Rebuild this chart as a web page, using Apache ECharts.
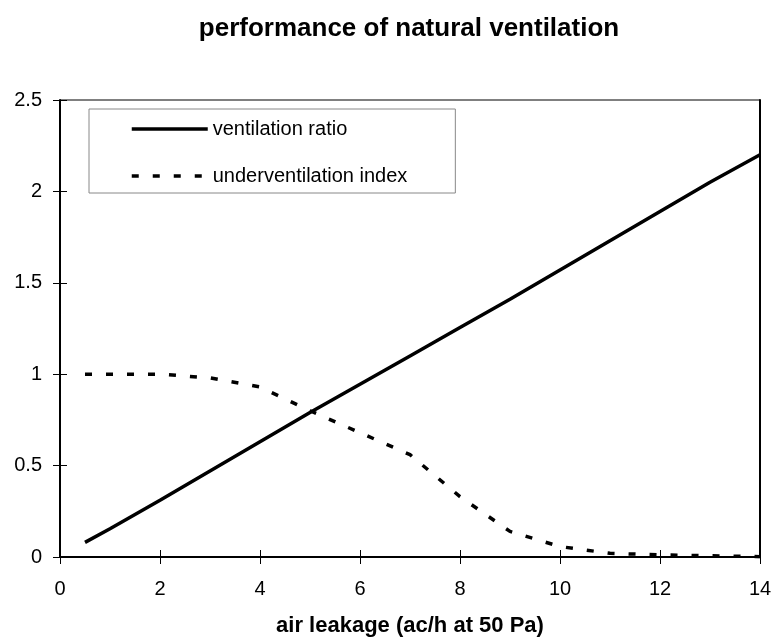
<!DOCTYPE html>
<html>
<head>
<meta charset="utf-8">
<script src="https://cdn.jsdelivr.net/npm/echarts@6/dist/echarts.min.js"></script>
<style>html,body{margin:0;padding:0;background:#fff}#c{width:773px;height:638px}</style>
</head>
<body>
<div id="c"></div>
<script>
const xValues = [0.5, 1, 2, 3, 4, 5, 6, 7, 8, 9, 10, 11, 12, 13, 14];
const ventilationRatio = [0.08, 0.155, 0.31, 0.47, 0.63, 0.79, 0.945, 1.1, 1.255, 1.41, 1.57, 1.73, 1.89, 2.05, 2.2];
const underventilationIndex = [1.0, 1.0, 1.0, 0.98, 0.93, 0.80, 0.68, 0.56, 0.33, 0.14, 0.057, 0.02, 0.012, 0.007, 0.002];
const xTicks = [0, 2, 4, 6, 8, 10, 12, 14];
const yTicks = [0, 0.5, 1, 1.5, 2, 2.5];
const titleText = 'performance of natural ventilation';
const xName = 'air leakage (ac/h at 50 Pa)';
const seriesNames = ['ventilation ratio', 'underventilation index'];

const FONT = '"Liberation Sans", Arial, sans-serif';
const chart = echarts.init(document.getElementById('c'), null, {renderer: 'canvas'});
const pair = (xs, ys) => xs.map((x, i) => [x, ys[i]]);

const baseX = {type: 'value', min: xTicks[0], max: xTicks[xTicks.length - 1], interval: 2, splitLine: {show: false}};
const baseY = {type: 'value', min: yTicks[0], max: yTicks[yTicks.length - 1], interval: 0.5, splitLine: {show: false}};

chart.setOption({
  animation: false,
  backgroundColor: '#fff',
  title: {
    text: titleText, left: 404, top: 11, textAlign: 'center',
    textStyle: {fontFamily: FONT, fontWeight: 'bold', fontSize: 26, color: '#000'}
  },
  grid: {left: 60, right: 13, top: 100, bottom: 81, containLabel: false, outerBoundsMode: 'none',
    show: true, borderColor: '#000', borderWidth: 1, backgroundColor: 'transparent'},
  legend: {
    left: 89, top: 109, orient: 'vertical',
    itemWidth: 76, itemHeight: 14, itemGap: 23,
    padding: [8, 48, 5, 41],
    borderColor: '#888', borderWidth: 1,
    itemStyle: {opacity: 0, borderWidth: 0},
    lineStyle: {width: 3.5},
    textStyle: {fontFamily: FONT, fontSize: 20, color: '#000', lineHeight: 24},
    data: seriesNames
  },
  xAxis: [
    Object.assign({}, baseX, {
      position: 'bottom',
      axisLine: {show: true, lineStyle: {color: '#000', width: 2}},
      axisTick: {show: true, inside: false, length: 7, lineStyle: {color: '#000', width: 1}},
      axisLabel: {margin: 22, fontFamily: FONT, fontSize: 20, color: '#000'},
      name: xName, nameLocation: 'middle', nameGap: 58,
      nameTextStyle: {fontFamily: FONT, fontWeight: 'bold', fontSize: 22, color: '#000'}
    }),
    Object.assign({}, baseX, {
      position: 'bottom',
      axisLine: {show: false},
      axisTick: {show: true, inside: true, length: 7, lineStyle: {color: '#000', width: 1}},
      axisLabel: {show: false}
    })
  ],
  yAxis: [
    Object.assign({}, baseY, {
      position: 'left',
      axisLine: {show: true, lineStyle: {color: '#000', width: 2}},
      axisTick: {show: true, inside: false, length: 7, lineStyle: {color: '#000', width: 1}},
      axisLabel: {margin: 18, fontFamily: FONT, fontSize: 20, color: '#000'}
    }),
    Object.assign({}, baseY, {
      position: 'left',
      axisLine: {show: false},
      axisTick: {show: true, inside: true, length: 7, lineStyle: {color: '#000', width: 1}},
      axisLabel: {show: false}
    }),
    Object.assign({}, baseY, {
      position: 'right',
      axisLine: {show: true, lineStyle: {color: '#000', width: 2}},
      axisTick: {show: false},
      axisLabel: {show: false}
    })
  ],
  series: [
    {
      name: seriesNames[0], type: 'line', xAxisIndex: 0, yAxisIndex: 0,
      data: pair(xValues, ventilationRatio),
      symbol: 'none', showSymbol: false,
      lineStyle: {color: '#000', width: 3.5, type: 'solid'},
      itemStyle: {color: '#000'}
    },
    {
      name: seriesNames[1], type: 'line', xAxisIndex: 0, yAxisIndex: 0,
      data: pair(xValues, underventilationIndex),
      symbol: 'none', showSymbol: false,
      lineStyle: {color: '#000', width: 3.5, type: [7, 14]},
      itemStyle: {color: '#000'}
    }
  ]
});
</script>
</body>
</html>
